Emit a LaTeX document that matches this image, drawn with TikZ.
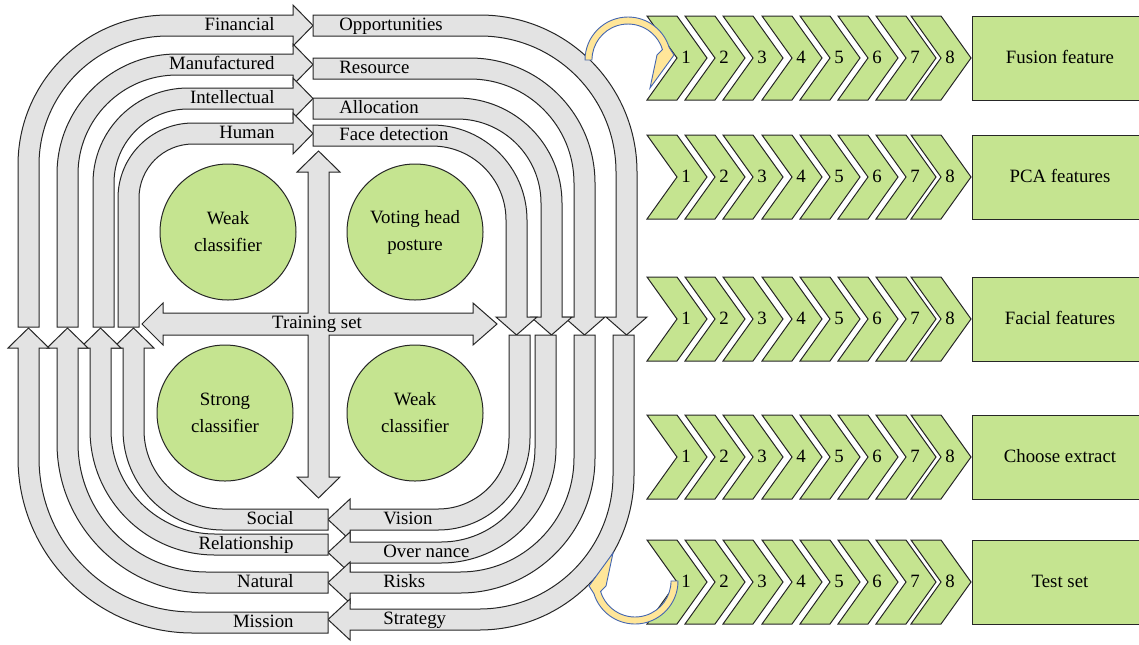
\documentclass[tikz,border=0pt]{standalone}
\usepackage{fontspec}
\setmainfont{Liberation Serif}
\definecolor{bandgray}{HTML}{E3E3E3}
\definecolor{leafgreen}{HTML}{C5E490}
\definecolor{curlyellow}{HTML}{FFE699}
\definecolor{curlblue}{HTML}{4466B0}
\begin{document}
\begin{tikzpicture}[x=0.5pt,y=-0.5pt,
    band/.style={draw=black!85,fill=bandgray,line width=0.5pt},
    chev/.style={draw=black!85,fill=leafgreen,line width=0.5pt},
    disc/.style={circle,draw=black!85,fill=leafgreen,line width=0.5pt,
      minimum size=68pt,inner sep=0pt,align=center,font=\fontsize{9.4}{13.5}\selectfont},
    lbl/.style={inner sep=0pt,font=\fontsize{9.4}{13.5}\selectfont},
    curl/.style={draw=curlblue,fill=curlyellow,line width=0.45pt}]
  \useasboundingbox (0,0) rectangle (1139,644);

  % top left: up and over to the right
  \foreach \sx/\sy/\rad/\txt [count=\i] in
      {18/15/150/Financial,57/54/120/Manufactured,93/88/95/Intellectual,118/123/75/Human}{
    \draw[band] (\sx,327) -- (\sx,\sy+\rad) arc[start angle=180,end angle=270,radius=\rad]
      -- (293,\sy) -- (293,\sy-10) -- (313,\sy+10.5) -- (293,\sy+31) -- (293,\sy+21)
      -- (\sx+\rad,\sy+21) arc[start angle=270,end angle=180,radius=\rad-21]
      -- (\sx+21,327) -- cycle;
    \node[lbl,anchor=mid east] (tl\i) at (275,\sy+11) {\txt};
  }

  % top right: across and down
  \foreach \sy/\sx/\rad/\txt [count=\i] in
      {15/637/157/Opportunities,58/595/125/Resource,98/562/105/Allocation,125/527/95/Face detection}{
    \draw[band] (313,\sy) -- (\sx-\rad,\sy) arc[start angle=270,end angle=360,radius=\rad]
      -- (\sx,317) -- (\sx+10,317) -- (\sx-10.5,335) -- (\sx-31,317) -- (\sx-21,317)
      -- (\sx-21,\sy+\rad) arc[start angle=0,end angle=-90,radius=\rad-21]
      -- (313,\sy+21) -- cycle;
    \node[lbl,anchor=mid west] (tr\i) at (339,\sy+11) {\txt};
  }

  % bottom right: down and back to the left
  \foreach \sx/\sy/\rad/\txt [count=\i] in
      {530/530/92/Vision,556/563/115/Over nance,595/593/135/Risks,634/630/155/Strategy}{
    \draw[band] (\sx,335) -- (\sx,\sy-\rad) arc[start angle=0,end angle=90,radius=\rad]
      -- (350,\sy) -- (350,\sy+10) -- (328,\sy-10.5) -- (350,\sy-31) -- (350,\sy-21)
      -- (\sx-\rad,\sy-21) arc[start angle=90,end angle=0,radius=\rad-21]
      -- (\sx-21,335) -- cycle;
    \node[lbl,anchor=mid west] (br\i) at (383,\sy-10) {\txt};
  }

  % bottom left: back and up
  \foreach \sx/\sy/\rad/\txt [count=\i] in
      {123/530/100/Social,90/555/125/Relationship,57/593/150/Natural,18/633/175/Mission}{
    \draw[band] (328,\sy) -- (\sx+\rad,\sy) arc[start angle=90,end angle=180,radius=\rad]
      -- (\sx,348) -- (\sx-10,348) -- (\sx+10.5,328) -- (\sx+31,348) -- (\sx+21,348)
      -- (\sx+21,\sy-\rad) arc[start angle=180,end angle=90,radius=\rad-21]
      -- (328,\sy-21) -- cycle;
    \node[lbl,anchor=mid east] (bl\i) at (294,\sy-10) {\txt};
  }

  % cross in the middle
  \draw[band] (318.5,151) -- (340,172) -- (329,172) -- (329,313) -- (473,313) -- (473,303)
    -- (497,324) -- (473,345) -- (473,335) -- (329,335) -- (329,477) -- (340,477)
    -- (318.5,498) -- (297,477) -- (308,477) -- (308,335) -- (163,335) -- (163,345)
    -- (142,324) -- (163,303) -- (163,313) -- (308,313) -- (308,172) -- (297,172) -- cycle;
  \node[lbl,anchor=mid] (train) at (317,324) {Training set};

  \node[disc] (weak1) at (228,232) {Weak\\classifier};
  \node[disc] (vote) at (415,232) {Voting head\\posture};
  \node[disc] (strong) at (225,413) {Strong\\classifier};
  \node[disc] (weak2) at (415,413) {Weak\\classifier};

  % chevron rows
  \foreach \yc/\txt [count=\j] in
      {58/Fusion feature,177/PCA features,319/Facial features,457/Choose extract,582/Test set}{
    \foreach \lx [count=\k] in {647,685,723,762,800,838,876,911}{
      \draw[chev] (\lx,\yc-42) -- (\lx+30,\yc-42) -- (\lx+60,\yc) -- (\lx+30,\yc+42)
        -- (\lx,\yc+42) -- (\lx+30,\yc) -- cycle;
      \node[lbl,anchor=mid] (s\j-\k) at (\lx+39,\yc+1) {\k};
    }
    \draw[chev] (972,\yc-42) rectangle (1150,\yc+42);
    \node[lbl,anchor=mid] (out\j) at (1060,\yc+1) {\txt};
  }

  % curled arrows
  \draw[curl] (585,60) arc[start angle=180,end angle=343,radius=43] -- (674,55) -- (650,88)
    -- (657,55) -- (662.4,49.5) arc[start angle=343,end angle=180,radius=36] -- cycle;
  \begin{scope}[rotate around={180:(631.5,320.5)}]
    \draw[curl] (585,60) arc[start angle=180,end angle=343,radius=43] -- (674,55) -- (650,88)
      -- (657,55) -- (662.4,49.5) arc[start angle=343,end angle=180,radius=36] -- cycle;
  \end{scope}
\end{tikzpicture}
\end{document}
